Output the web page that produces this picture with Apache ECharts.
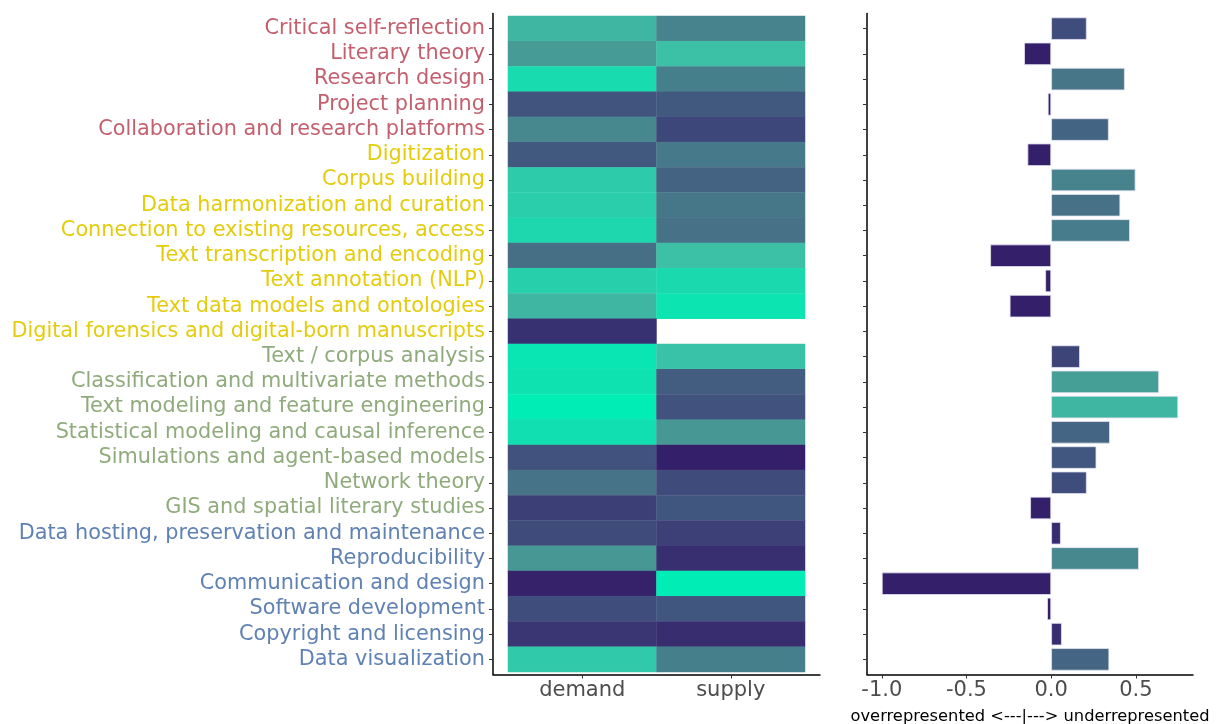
<!DOCTYPE html>
<html>
<head>
<meta charset="utf-8">
<script src="https://cdn.jsdelivr.net/npm/echarts@6/dist/echarts.min.js"></script>
<style>
  html, body { margin: 0; padding: 0; background: #fff; }
  #chart { width: 1220px; height: 724px; }
</style>
</head>
<body>
<div id="chart"></div>
<script>
const skills = [
  "Critical self-reflection",
  "Literary theory",
  "Research design",
  "Project planning",
  "Collaboration and research platforms",
  "Digitization",
  "Corpus building",
  "Data harmonization and curation",
  "Connection to existing resources, access",
  "Text transcription and encoding",
  "Text annotation (NLP)",
  "Text data models and ontologies",
  "Digital forensics and digital-born manuscripts",
  "Text / corpus analysis",
  "Classification and multivariate methods",
  "Text modeling and feature engineering",
  "Statistical modeling and causal inference",
  "Simulations and agent-based models",
  "Network theory",
  "GIS and spatial literary studies",
  "Data hosting, preservation and maintenance",
  "Reproducibility",
  "Communication and design",
  "Software development",
  "Copyright and licensing",
  "Data visualization"
];
// group of each skill -> label colour
const skillGroup = [0,0,0,0,0, 1,1,1,1,1,1,1,1, 2,2,2,2,2,2,2, 3,3,3,3,3,3];
const groupColors = ["#c4606e", "#e4cc0c", "#8fab7c", "#5f81b3"];

const measures = ["demand", "supply"];
// scaled share, 0 = lowest, 1 = highest
const demand = [0.75, 0.62, 0.92, 0.25, 0.52, 0.27, 0.85, 0.86, 0.90, 0.40, 0.87, 0.75, 0.08,
                0.97, 0.95, 1.00, 0.94, 0.24, 0.42, 0.14, 0.20, 0.60, 0.01, 0.21, 0.10, 0.84];
const supply = [0.50, 0.80, 0.48, 0.28, 0.18, 0.45, 0.33, 0.44, 0.41, 0.80, 0.91, 0.96, null,
                0.81, 0.30, 0.24, 0.60, 0.00, 0.20, 0.26, 0.15, 0.07, 1.00, 0.26, 0.06, 0.48];
// demand - supply
const gap = [0.21, -0.16, 0.435, -0.02, 0.34, -0.14, 0.498, 0.408, 0.465, -0.36, -0.035, -0.245, null,
             0.17, 0.637, 0.75, 0.347, 0.267, 0.21, -0.124, 0.057, 0.518, -1.0, -0.024, 0.063, 0.343];
const gapTicks = [-1, -0.5, 0, 0.5];

const palette = ["#34206a", "#3f4b7b", "#466f86", "#479794", "#3cc0a6", "#00edb5"];

const heatData = [];
skills.forEach((s, i) => {
  if (demand[i] != null) heatData.push([0, i, demand[i]]);
  if (supply[i] != null) heatData.push([1, i, supply[i]]);
});
const barData = skills.map((s, i) => (gap[i] == null ? [null, s] : [gap[i], s]));

const chart = echarts.init(document.getElementById("chart"));
const font = "DejaVu Sans";
const axisBlack = { show: true, lineStyle: { color: "#000", width: 1.5 } };
const noBounds = { outerBoundsMode: "none", containLabel: false };

chart.setOption({
  animation: false,
  textStyle: { fontFamily: font },
  grid: [
    // heatmap cells
    { left: 508, width: 297, top: 16, height: 656, ...noBounds },
    // heatmap frame
    { left: 493, width: 327, top: 13.5, height: 661, ...noBounds },
    // bars
    { left: 867, width: 326, top: 16, height: 656, ...noBounds },
    // bar frame
    { left: 867, width: 326, top: 13.5, height: 661, ...noBounds }
  ],
  xAxis: [
    {
      gridIndex: 0, type: "category", data: measures, offset: 2.5,
      axisLine: { show: false },
      axisTick: { show: true, alignWithLabel: true, length: 4, lineStyle: { color: "#333" } },
      axisLabel: { color: "#4d4d4d", fontSize: 21, margin: 6, interval: 0 },
      splitLine: { show: false }
    },
    {
      gridIndex: 1, type: "value", min: 0, max: 1,
      axisLine: axisBlack, axisTick: { show: false }, axisLabel: { show: false }, splitLine: { show: false }
    },
    {
      gridIndex: 2, type: "value", min: -1.0875, max: 0.8375, offset: 2.5,
      axisLine: { show: false, onZero: false },
      axisTick: { show: true, length: 4, customValues: gapTicks, lineStyle: { color: "#333" } },
      axisLabel: {
        color: "#4d4d4d", fontSize: 21, margin: 6, customValues: gapTicks,
        formatter: (v) => v.toFixed(1)
      },
      splitLine: { show: false },
      name: "overrepresented <---|---> underrepresented",
      nameLocation: "middle", nameGap: 34.5, nameMoveOverlap: false,
      nameTextStyle: { color: "#000", fontSize: 16.3, fontFamily: font }
    },
    {
      gridIndex: 3, type: "value", min: 0, max: 1,
      axisLine: axisBlack, axisTick: { show: false }, axisLabel: { show: false }, splitLine: { show: false }
    }
  ],
  yAxis: [
    {
      gridIndex: 0, type: "category", data: skills, inverse: true, offset: 15,
      axisLine: { show: false, onZero: false },
      axisTick: { show: true, alignWithLabel: true, length: 4, lineStyle: { color: "#333" } },
      axisLabel: {
        fontSize: 20.8, margin: 8, interval: 0,
        color: (v) => groupColors[skillGroup[skills.indexOf(v)]]
      },
      splitLine: { show: false }
    },
    {
      gridIndex: 1, type: "value", min: 0, max: 1,
      axisLine: axisBlack, axisTick: { show: false }, axisLabel: { show: false }, splitLine: { show: false }
    },
    {
      gridIndex: 2, type: "category", data: skills, inverse: true,
      axisLine: { show: false, onZero: false },
      axisTick: { show: true, alignWithLabel: true, length: 4, interval: 0, lineStyle: { color: "#333" } },
      axisLabel: { show: false, interval: 0 },
      splitLine: { show: false }
    },
    {
      gridIndex: 3, type: "value", min: 0, max: 1,
      axisLine: axisBlack, axisTick: { show: false }, axisLabel: { show: false }, splitLine: { show: false }
    }
  ],
  visualMap: [
    {
      show: false, type: "continuous", seriesIndex: 0, dimension: 2,
      min: 0, max: 1, inRange: { color: palette }
    },
    {
      show: false, type: "continuous", seriesIndex: 1, dimension: 0,
      min: 0, max: 1, inRange: { color: palette }, outOfRange: { color: palette[0] }
    }
  ],
  series: [
    {
      type: "heatmap", xAxisIndex: 0, yAxisIndex: 0, data: heatData,
      itemStyle: { borderColor: "rgba(255,255,255,0.08)", borderWidth: 0.5 },
      emphasis: { disabled: true }
    },
    {
      type: "bar", xAxisIndex: 2, yAxisIndex: 2, data: barData,
      encode: { x: 0, y: 1 },
      barCategoryGap: "11%",
      itemStyle: { borderColor: "#e4e2f0", borderWidth: 0.8 }
    }
  ]
});
</script>
</body>
</html>
